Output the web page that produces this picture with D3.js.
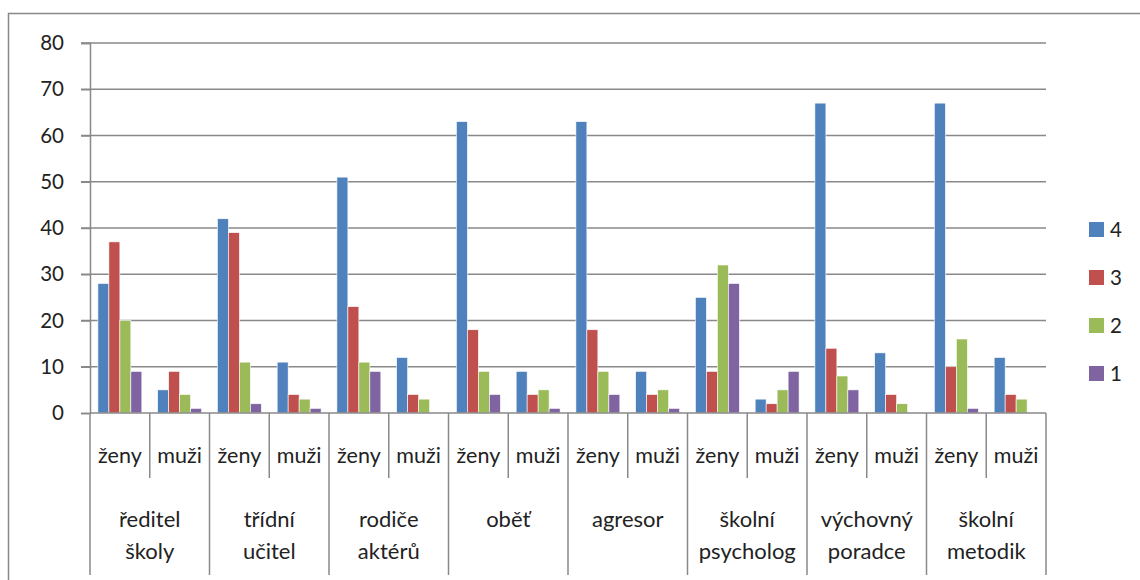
<!DOCTYPE html>
<html><head><meta charset="utf-8">
<script src="https://cdn.jsdelivr.net/npm/d3@7"></script>
<style>html,body{margin:0;padding:0;background:#fff}svg{display:block}</style>
</head><body><svg id="c" width="1140" height="580"></svg>
<script>
const groups = [["ředitel","školy"],["třídní","učitel"],["rodiče","aktérů"],["oběť"],["agresor"],["školní","psycholog"],["výchovný","poradce"],["školní","metodik"]];
const sexes = ["ženy","muži"];
const seriesNames = ["4","3","2","1"];
const colors = ["#4F81BD","#C0504D","#9BBB59","#8064A2"];
// values per series, ordered group by group: ženy, muži
const s4 = [28,5, 42,11, 51,12, 63,9, 63,9, 25,3, 67,13, 67,12];
const s3 = [37,9, 39,4, 23,4, 18,4, 18,4, 9,2, 14,4, 10,4];
const s2 = [20,4, 11,3, 11,3, 9,5, 9,5, 32,5, 8,2, 16,3];
const s1 = [9,1, 2,1, 9,0, 4,1, 4,1, 28,9, 5,0, 1,0];
const yTicks = [0,10,20,30,40,50,60,70,80];
const seriesVals = [s4,s3,s2,s1];

const svg = d3.select("#c");
const font = "Lato, 'Open Sans', sans-serif";
const gray = "#898989";
const txt = "#222";
const L = 90, R = 1046, T = 43, B = 413;

svg.append("rect").attr("x",8.5).attr("y",13.5).attr("width",1200).attr("height",700)
  .attr("fill","none").attr("stroke",gray).attr("stroke-width",1.5);

const y = d3.scaleLinear().domain([0,80]).range([B,T]);
const subs = [];
groups.forEach((g,gi)=>sexes.forEach((s,si)=>subs.push(gi*2+si)));
const x = d3.scaleBand().domain(subs).range([L,R]).padding(0);
const xs = d3.scaleBand().domain(seriesNames).range([0,x.bandwidth()]).paddingInner(0).paddingOuter(0.72);

// gridlines
svg.append("g").selectAll("line").data(yTicks.filter(d=>d>0)).join("line")
  .attr("x1",81).attr("x2",R).attr("y1",d=>y(d)).attr("y2",d=>y(d))
  .attr("stroke",gray).attr("stroke-width",1.5);

// y axis
const ya = svg.append("g").attr("transform",`translate(${L},0)`)
  .call(d3.axisLeft(y).tickValues(yTicks).tickSize(9).tickPadding(17));
ya.select(".domain").attr("stroke",gray).attr("stroke-width",1.5);
ya.selectAll(".tick line").attr("stroke",gray).attr("stroke-width",1.5);
ya.selectAll("text").attr("font-family",font).attr("font-size",20.5).attr("fill",txt);

// bars
seriesVals.forEach((vals,si)=>{
  svg.append("g").selectAll("rect").data(vals).join("rect")
    .attr("x",(d,i)=>x(i)+xs(seriesNames[si]))
    .attr("width",xs.bandwidth())
    .attr("y",d=>y(d)).attr("height",d=>y(0)-y(d))
    .attr("fill",colors[si]).attr("stroke","#fff").attr("stroke-width",0.6);
});

// x axis baseline
svg.append("line").attr("x1",L).attr("x2",R).attr("y1",B).attr("y2",B).attr("stroke",gray).attr("stroke-width",1.5);

// separators
const seps = d3.range(17);
svg.append("g").selectAll("line").data(seps).join("line")
  .attr("x1",i=>i<16?x(i):R).attr("x2",i=>i<16?x(i):R)
  .attr("y1",B).attr("y2",i=>i%2===0?575:478)
  .attr("stroke",gray).attr("stroke-width",1.5);

// sex labels
svg.append("g").selectAll("text").data(subs).join("text")
  .attr("x",i=>x(i)+x.bandwidth()/2).attr("y",463)
  .attr("text-anchor","middle").attr("font-family",font).attr("font-size",21.5).attr("fill",txt)
  .text(i=>sexes[i%2]);

// group labels
groups.forEach((g,gi)=>{
  const cx = x(gi*2)+x.bandwidth();
  g.forEach((line,li)=>{
    svg.append("text").attr("x",cx).attr("y",527+li*32)
      .attr("text-anchor","middle").attr("font-family",font).attr("font-size",22).attr("fill",txt)
      .text(line);
  });
});

// legend
const lg = svg.append("g");
seriesNames.forEach((n,i)=>{
  const cy = 229.5 + i*48;
  lg.append("rect").attr("x",1089).attr("y",cy-7.5).attr("width",15).attr("height",15).attr("fill",colors[i]);
  lg.append("text").attr("x",1110).attr("y",cy).attr("dy","0.36em").attr("font-family",font).attr("font-size",20.5).attr("fill",txt).text(n);
});
</script></body></html>
